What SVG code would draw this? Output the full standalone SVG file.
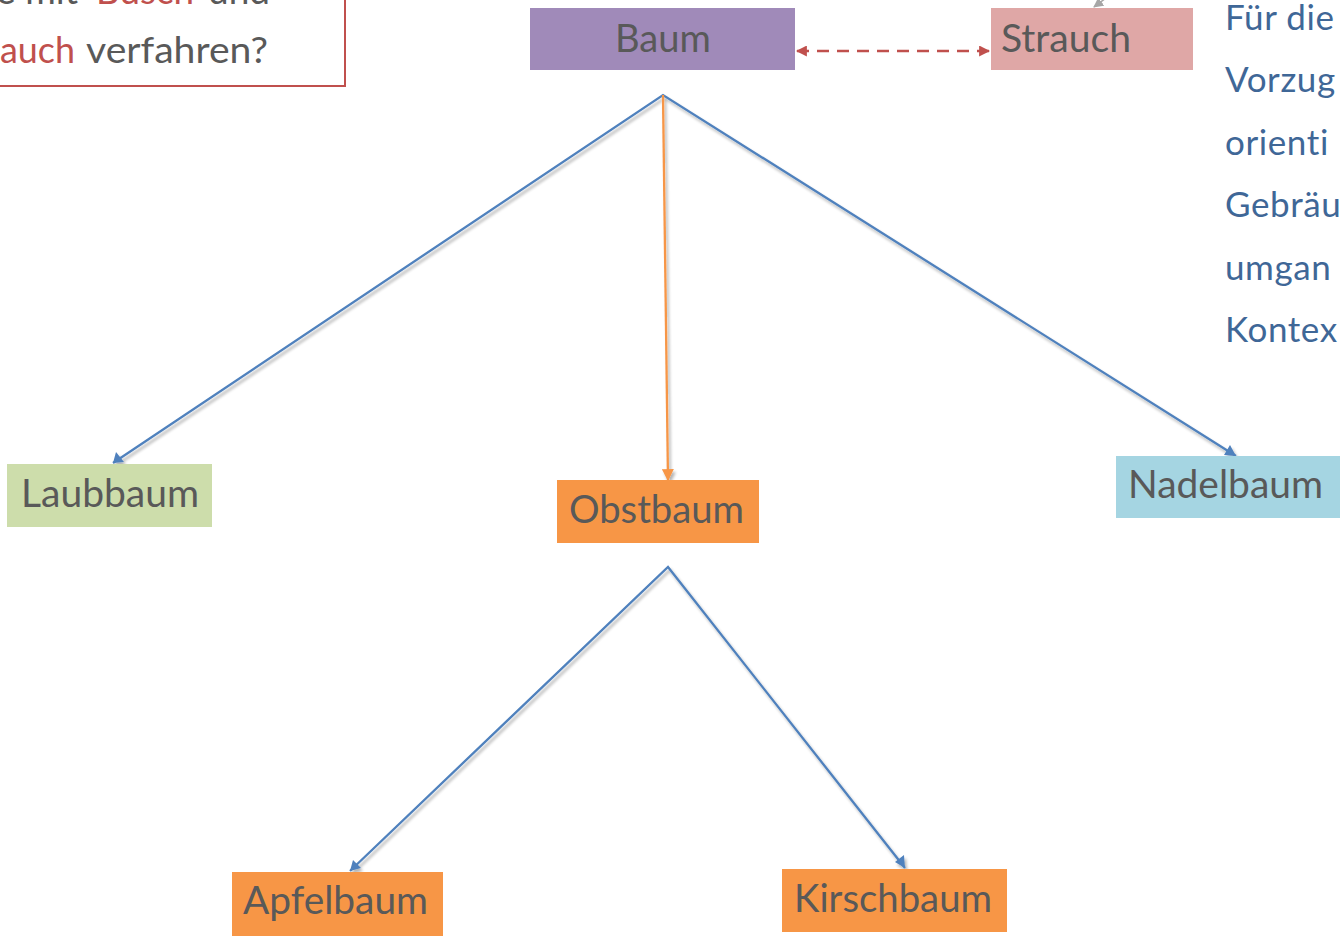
<svg xmlns="http://www.w3.org/2000/svg" width="1340" height="938" viewBox="0 0 1340 938">
  <style>
    text { font-variant-ligatures: none; }
    .lbl { font-family: Lato, "Open Sans", sans-serif; font-size: 38px; fill: #595959; }
    .note { font-family: Lato, "Open Sans", sans-serif; font-size: 37px; fill: #595959; }
    .red { fill: #C0504D; }
    .side { font-family: Lato, "Open Sans", sans-serif; font-size: 35px; fill: #3F6797; letter-spacing: 0.6px; }
    .blue { fill: none; stroke: #4F81BD; stroke-width: 2.3; }
    .orange { fill: none; stroke: #F79646; stroke-width: 2.3; }
  </style>
  <defs>
    <filter id="shade" x="-10%" y="-10%" width="120%" height="120%">
      <feGaussianBlur in="SourceAlpha" stdDeviation="1.5"/>
      <feOffset dx="2" dy="3" result="b"/>
      <feComponentTransfer><feFuncA type="linear" slope="0.3"/></feComponentTransfer>
      <feMerge><feMergeNode/><feMergeNode in="SourceGraphic"/></feMerge>
    </filter>
    <marker id="ahOrange" viewBox="0 0 10 10" refX="9" refY="5" markerWidth="12" markerHeight="12" markerUnits="userSpaceOnUse" orient="auto">
      <path d="M0,0 L10,5 L0,10 z" fill="#F79646"/>
    </marker>
    <marker id="ahRed" viewBox="0 0 10 10" refX="9" refY="5" markerWidth="11" markerHeight="11" markerUnits="userSpaceOnUse" orient="auto-start-reverse">
      <path d="M0,0 L10,5 L0,10 z" fill="#C0504D"/>
    </marker>
    <marker id="ahGray" viewBox="0 0 10 10" refX="9" refY="5" markerWidth="10" markerHeight="10" markerUnits="userSpaceOnUse" orient="auto">
      <path d="M0,0 L10,5 L0,10 z" fill="#A6A6A6"/>
    </marker>
  </defs>

  <!-- question box, top left -->
  <g id="question">
    <rect x="-10" y="-20" width="355" height="106" fill="#FFFFFF" stroke="#C0504D" stroke-width="2"/>
    <text class="note" x="-4" y="4" textLength="82" lengthAdjust="spacingAndGlyphs">e mit</text>
    <text class="note red" x="96" y="4" textLength="98" lengthAdjust="spacingAndGlyphs">Busch</text>
    <text class="note" x="208" y="4" textLength="62" lengthAdjust="spacingAndGlyphs">und</text>
    <text class="note red" x="0" y="63" textLength="75" lengthAdjust="spacingAndGlyphs">auch</text>
    <text class="note" x="86" y="63" textLength="182" lengthAdjust="spacingAndGlyphs">verfahren?</text>
  </g>

  <!-- side note, right -->
  <g id="sidenote">
    <text class="side" x="1225" y="30">Für die</text>
    <text class="side" x="1225" y="92">Vorzug</text>
    <text class="side" x="1225" y="155">orienti</text>
    <text class="side" x="1225" y="217">Gebräu</text>
    <text class="side" x="1225" y="280">umgan</text>
    <text class="side" x="1225" y="342">Kontex</text>
  </g>

  <!-- connectors -->
  <g id="connectors">
    <line x1="1110" y1="-5" x2="1094" y2="7" stroke="#A6A6A6" stroke-width="1.5" marker-end="url(#ahGray)"/>
    <line x1="797" y1="51" x2="989" y2="51" stroke="#C0504D" stroke-width="2.3" stroke-dasharray="12,8" marker-start="url(#ahRed)" marker-end="url(#ahRed)"/>
    <g filter="url(#shade)">
      <polyline class="blue" points="113,463 663,95 1236,456"/>
      <line class="orange" x1="663" y1="95" x2="668" y2="480" marker-end="url(#ahOrange)"/>
      <polyline class="blue" points="350,871 668,567 905,868"/>
      <path d="M113,463 l3,-11 l8,10 z" fill="#4F81BD"/>
      <path d="M1236,456 l-12,-1 l6,-10 z" fill="#4F81BD"/>
      <path d="M350,871 l3,-11 l8,8 z" fill="#4F81BD"/>
      <path d="M905,868 l-10,-6 l9,-7 z" fill="#4F81BD"/>
    </g>
  </g>

  <!-- nodes -->
  <g id="baum">
    <rect x="530" y="8" width="265" height="62" fill="#A08AB9"/>
    <text class="lbl" x="615" y="52" textLength="96" lengthAdjust="spacingAndGlyphs">Baum</text>
  </g>
  <g id="strauch">
    <rect x="991" y="8" width="202" height="62" fill="#DFA7A6"/>
    <text class="lbl" x="1001" y="52" textLength="130" lengthAdjust="spacingAndGlyphs">Strauch</text>
  </g>
  <g id="laubbaum">
    <rect x="7" y="464" width="205" height="63" fill="#CDDDAB"/>
    <text class="lbl" x="21" y="507" textLength="178" lengthAdjust="spacingAndGlyphs">Laubbaum</text>
  </g>
  <g id="obstbaum">
    <rect x="557" y="480" width="202" height="63" fill="#F79646"/>
    <text class="lbl" x="569" y="523" textLength="175" lengthAdjust="spacingAndGlyphs">Obstbaum</text>
  </g>
  <g id="nadelbaum">
    <rect x="1116" y="456" width="230" height="62" fill="#A5D5E2"/>
    <text class="lbl" x="1128" y="498" textLength="195" lengthAdjust="spacingAndGlyphs">Nadelbaum</text>
  </g>
  <g id="apfelbaum">
    <rect x="232" y="872" width="211" height="64" fill="#F79646"/>
    <text class="lbl" x="243" y="914" textLength="185" lengthAdjust="spacingAndGlyphs">Apfelbaum</text>
  </g>
  <g id="kirschbaum">
    <rect x="782" y="869" width="225" height="63" fill="#F79646"/>
    <text class="lbl" x="794" y="912" textLength="198" lengthAdjust="spacingAndGlyphs">Kirschbaum</text>
  </g>
</svg>
